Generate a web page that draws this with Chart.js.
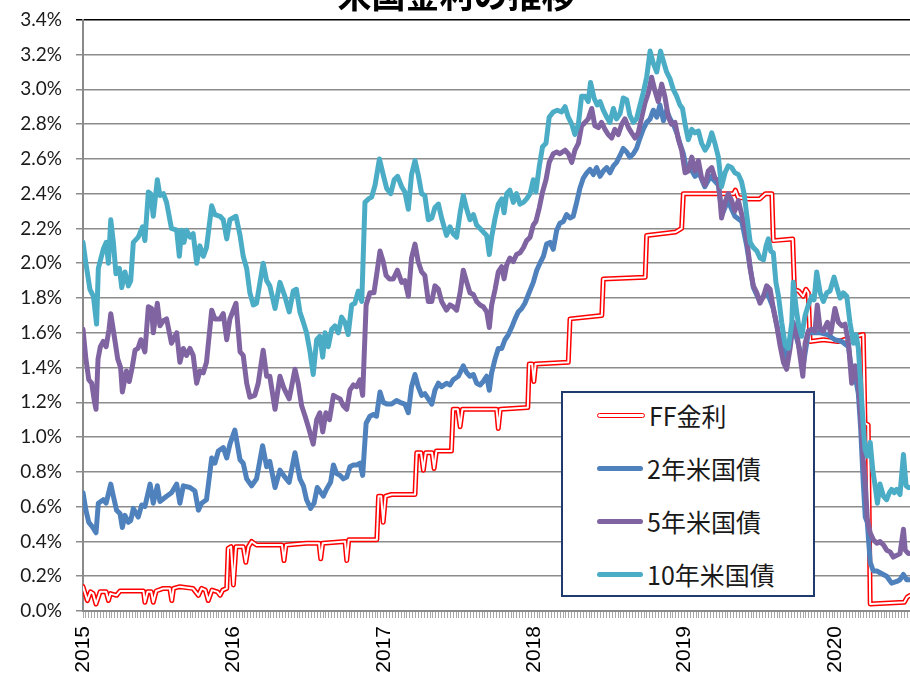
<!DOCTYPE html>
<html lang="ja">
<head>
  <meta charset="UTF-8" />
  <title>米国金利の推移</title>
  <script src="https://cdn.jsdelivr.net/npm/chart.js"></script>
  <style>
    html, body { margin: 0; padding: 0; background: #fff; overflow: hidden; width: 910px; height: 680px; }
    #wrap { position: absolute; left: 0; top: -25px; width: 968px; height: 716px; }
    #legendBox {
      position: absolute; left: 561px; top: 391px; width: 250px; height: 202px;
      border: 2px solid #1f3b6e; background: #fff;
      font-family: "Noto Sans CJK JP", sans-serif; font-size: 25px; color: #1a1a1a;
    }
    .row { position: absolute; left: 0; height: 30px; display: flex; align-items: center; }
    .swatch { width: 46px; height: 5px; border-radius: 3px; margin-left: 34px; margin-right: 4px; }
  </style>
</head>
<body>
  <div id="wrap"><canvas id="rateChart" width="968" height="716"></canvas></div>
  <div id="legendBox"></div>

  <script>
    // x = weeks since the start of 2015 (weekly data), y = rate in %
    const yearLabels = ['2015', '2016', '2017', '2018', '2019', '2020'];
    const yearTickWeeks = [0, 52, 104, 156, 208, 260];
    const lastWeek = 287;

    const ffWeek = [0, 1.5, 2.6, 3.5, 4.5, 5.9, 8, 8.8, 9.5, 11.6, 12.8, 20.9, 21.4, 22.3, 23.6, 24.3, 25.3, 27.8, 30, 30.7,
      31.3, 33.5, 38, 39.9, 41, 42.3, 43.3, 44.6, 46.5, 47.4, 48.3, 49.7, 50.2, 51.2, 52, 52.9, 55.4, 56.3, 57.2, 58.3,
      60, 68.8, 69.5, 70.2, 77.3, 81.6, 82.2, 82.9, 90.6, 91.2, 91.9, 101.6, 102.2, 103.1, 103.8, 104.6, 106.7, 114.8, 115.4, 116.9,
      117.7, 118.5, 120.7, 121.4, 122.2, 127.4, 128, 129.6, 130.4, 131.2, 143, 143.6, 144.3, 153.8, 154.3, 155.3, 155.9, 156.5, 167.8, 168.4,
      179.4, 179.9, 194.4, 194.9, 205, 207, 207.6, 225, 225.6, 226.5, 230, 234, 236, 238.2, 238.7, 245.4, 246, 247.5, 249, 250,
      250.8, 251.4, 256, 261, 269.8, 270.4, 271.5, 272.2, 284, 285, 286];
    const ffRate = [0.14, 0.06, 0.11, 0.10, 0.04, 0.11, 0.11, 0.06, 0.10, 0.09, 0.115, 0.115, 0.05, 0.11, 0.11, 0.05, 0.115, 0.13, 0.13, 0.06,
      0.13, 0.14, 0.13, 0.09, 0.13, 0.12, 0.06, 0.12, 0.11, 0.09, 0.12, 0.13, 0.36, 0.37, 0.15, 0.37, 0.37, 0.28, 0.37, 0.40,
      0.38, 0.38, 0.29, 0.38, 0.39, 0.39, 0.30, 0.39, 0.40, 0.29, 0.41, 0.41, 0.66, 0.66, 0.51, 0.66, 0.67, 0.67, 0.91, 0.91,
      0.81, 0.91, 0.91, 0.82, 0.92, 0.92, 1.16, 1.16, 1.06, 1.16, 1.16, 1.05, 1.16, 1.17, 1.42, 1.42, 1.32, 1.42, 1.43, 1.68,
      1.70, 1.91, 1.92, 2.16, 2.18, 2.20, 2.40, 2.40, 2.42, 2.38, 2.37, 2.37, 2.40, 2.40, 2.13, 2.14, 1.85, 1.84, 1.81, 1.85,
      1.83, 1.55, 1.56, 1.55, 1.59, 1.08, 1.07, 0.04, 0.05, 0.08, 0.09];

    const y2Week = [0, 1, 2, 3, 4.5, 5.3, 7, 8, 9.6, 10.5, 11.6, 12.8, 13.6, 14.5, 15.7, 16.5, 17.4, 19.1, 20.3, 21.4,
      23.2, 24.3, 25.7, 26.6, 28.9, 30.6, 32.4, 33.5, 34.7, 37, 38.7, 39.9, 41, 42.7, 44.5, 45.6, 46.8, 48.5, 49.7, 50.8,
      52.5, 54.3, 55.4, 56.6, 58.3, 60, 62.1, 63.5, 64.6, 66.4, 68.1, 69.8, 71.3, 73.3, 75, 76.2, 77.3, 78.7, 79.9, 81,
      81.9, 83.1, 84.2, 85.6, 86.6, 87.7, 88.9, 90, 91.2, 92.3, 93.5, 94.6, 95.8, 96.7, 97.9, 99.2, 100.4, 101.5, 102.7, 103.8,
      105.2, 106.7, 108.4, 109.6, 111.3, 112.5, 113.6, 114.8, 115.9, 117.1, 118.2, 119.4, 120.6, 121.7, 122.9, 124, 125.7, 126.9, 128, 129.8,
      131.5, 132.7, 133.8, 135, 136.1, 137.3, 138.4, 139.6, 140.5, 141.3, 142.5, 143.6, 144.8, 145.9, 147.1, 148.2, 149.4, 150.5, 151.7, 152.8,
      154, 155.7, 156.9, 158, 159.2, 160.3, 161.5, 162.6, 163.8, 164.9, 166.1, 167.2, 168.4, 169.5, 170.7, 171.8, 173, 174.2, 175.3, 176.5,
      177.6, 178.8, 179.9, 181.1, 182.2, 183.4, 184.5, 185.7, 186.8, 188, 189.1, 190.3, 191.4, 192.6, 193.7, 194.9, 196.1, 197.2, 198.4, 199.5,
      200.7, 201.8, 203, 204.1, 205.3, 206.4, 207.6, 208.7, 209.9, 211.6, 213, 215, 217, 219.7, 221, 223, 225.4, 227.8, 229.5, 231.8,
      234, 236.4, 238.7, 241, 243.3, 245.6, 247.9, 248.9, 250.8, 253, 255, 257.4, 260, 262.4, 264.7, 265.8, 267, 268.1, 268.9, 269.8,
      270.5, 271.2, 272.2, 273.3, 274.5, 275.6, 277.9, 279.6, 281.4, 282.5, 283.7, 284.8, 286];
    const y2Rate = [0.68, 0.58, 0.51, 0.49, 0.45, 0.62, 0.64, 0.62, 0.73, 0.66, 0.58, 0.56, 0.48, 0.55, 0.51, 0.52, 0.59, 0.54, 0.61, 0.60,
      0.73, 0.62, 0.72, 0.63, 0.66, 0.68, 0.73, 0.62, 0.72, 0.71, 0.69, 0.58, 0.62, 0.64, 0.88, 0.85, 0.92, 0.94, 0.88, 0.96,
      1.04, 0.87, 0.85, 0.76, 0.72, 0.76, 0.95, 0.83, 0.86, 0.71, 0.81, 0.77, 0.74, 0.91, 0.76, 0.72, 0.64, 0.59, 0.62, 0.71,
      0.69, 0.66, 0.70, 0.74, 0.84, 0.79, 0.78, 0.76, 0.77, 0.83, 0.84, 0.84, 0.85, 0.78, 1.08, 1.12, 1.13, 1.12, 1.26, 1.20,
      1.19, 1.19, 1.21, 1.20, 1.19, 1.14, 1.29, 1.36, 1.29, 1.24, 1.25, 1.22, 1.19, 1.27, 1.31, 1.29, 1.31, 1.30, 1.33, 1.35,
      1.41, 1.37, 1.35, 1.36, 1.31, 1.30, 1.32, 1.35, 1.27, 1.37, 1.45, 1.51, 1.51, 1.56, 1.59, 1.63, 1.68, 1.72, 1.74, 1.77,
      1.82, 1.89, 1.96, 2.00, 2.04, 2.11, 2.12, 2.08, 2.19, 2.23, 2.24, 2.28, 2.26, 2.27, 2.35, 2.43, 2.49, 2.52, 2.54, 2.51,
      2.55, 2.50, 2.53, 2.55, 2.52, 2.56, 2.58, 2.62, 2.66, 2.64, 2.61, 2.63, 2.66, 2.72, 2.77, 2.81, 2.83, 2.88, 2.84, 2.91,
      2.82, 2.88, 2.83, 2.80, 2.75, 2.69, 2.63, 2.54, 2.55, 2.50, 2.52, 2.44, 2.50, 2.45, 2.28, 2.36, 2.27, 2.24, 2.10, 1.86,
      1.78, 1.84, 1.74, 1.56, 1.45, 1.64, 1.50, 1.40, 1.60, 1.60, 1.60, 1.59, 1.56, 1.55, 1.52, 1.38, 1.35, 1.25, 1.05, 0.74,
      0.54, 0.51, 0.28, 0.23, 0.23, 0.22, 0.20, 0.16, 0.17, 0.18, 0.21, 0.18, 0.18];

    const y5Week = [0, 1, 2, 3, 4, 4.5, 5.2, 6, 7, 8, 9, 9.6, 11, 12, 13, 13.6, 15, 16, 17, 18,
      19, 20, 21.4, 22.6, 23.7, 24.3, 25.7, 26.6, 27.8, 28.9, 30.6, 32.4, 33.5, 34.7, 35.8, 37, 38.1, 39.3, 40.4, 41.6,
      42.7, 44.5, 45.6, 47.4, 48.5, 49.7, 50.8, 52.9, 54.3, 55.4, 56.6, 57.7, 59.4, 60.6, 62.3, 63.5, 64.6, 66.4, 68.1, 69.5,
      71.3, 73.3, 74.4, 75.6, 76.8, 77.9, 79.6, 80.8, 81.9, 82.9, 84, 85.2, 86.6, 87.7, 88.9, 90, 91.2, 92.3, 93.5, 94.6,
      95.8, 96.7, 97.9, 99.2, 100.6, 101.5, 102.7, 103.8, 104.8, 105.9, 107.3, 108.7, 110.2, 111.3, 112.5, 113.6, 114.8, 115.9, 117.1, 118.2,
      119.4, 120.6, 121.7, 122.9, 124, 125.7, 126.9, 128, 129.2, 130.4, 131.5, 132.7, 133.8, 135, 136.1, 137.3, 138.4, 139.6, 140.5, 141.3,
      142.5, 143.6, 144.8, 145.6, 146.5, 147.6, 148.8, 149.9, 151.1, 152.3, 153.4, 154.6, 155.7, 156.6, 157.8, 158.9, 160.1, 161.2, 162.6, 163.8,
      164.9, 166.7, 167.8, 169, 170.1, 171.3, 172.4, 173.6, 174.7, 175.9, 177, 178.2, 179.3, 180.5, 181.6, 182.8, 183.9, 185.1, 186.3, 187.4,
      188.6, 189.7, 190.9, 192, 193.2, 194.3, 195.5, 196.6, 197.8, 198.9, 200.1, 201.2, 202.4, 203.5, 204.7, 205.9, 207, 208.2, 209.3, 210.5,
      211.6, 212.8, 213.9, 215.1, 216.2, 217.4, 218.5, 219.7, 220.8, 222, 223.1, 224.3, 225.4, 226.6, 227.8, 228.9, 229.8, 230.7, 231.8, 233,
      234.1, 235.3, 236.4, 237.6, 238.7, 239.9, 241, 242.2, 243.3, 244.5, 245.6, 247, 247.9, 248.9, 249.7, 250.8, 252, 253.1, 253.9, 254.9,
      256, 257.4, 258.6, 260, 261.2, 262.4, 263.5, 264.7, 265.8, 267, 268.1, 268.9, 269.8, 270.5, 271.2, 272.2, 273.3, 274.5, 275.6, 276.8,
      277.9, 279.1, 280.2, 281.4, 282.5, 283.7, 284.3, 285.4, 286];
    const y5Rate = [1.62, 1.45, 1.33, 1.31, 1.20, 1.16, 1.45, 1.52, 1.55, 1.52, 1.62, 1.71, 1.56, 1.45, 1.40, 1.26, 1.38, 1.32, 1.40, 1.50,
      1.51, 1.56, 1.49, 1.75, 1.74, 1.60, 1.77, 1.64, 1.67, 1.68, 1.54, 1.60, 1.43, 1.51, 1.47, 1.51, 1.47, 1.31, 1.38, 1.37,
      1.43, 1.73, 1.68, 1.68, 1.71, 1.56, 1.68, 1.77, 1.49, 1.47, 1.31, 1.23, 1.24, 1.31, 1.50, 1.35, 1.35, 1.16, 1.35, 1.28,
      1.22, 1.39, 1.31, 1.18, 1.12, 1.06, 0.96, 1.10, 1.14, 1.03, 1.14, 1.10, 1.24, 1.23, 1.22, 1.18, 1.16, 1.27, 1.30, 1.29,
      1.33, 1.24, 1.76, 1.83, 1.83, 1.93, 2.07, 2.01, 1.93, 1.91, 1.91, 1.96, 1.89, 1.90, 1.81, 2.03, 2.11, 2.01, 1.95, 1.93,
      1.78, 1.78, 1.87, 1.85, 1.78, 1.73, 1.76, 1.75, 1.73, 1.83, 1.96, 1.89, 1.83, 1.82, 1.78, 1.76, 1.75, 1.72, 1.63, 1.76,
      1.85, 1.95, 1.98, 1.91, 1.99, 2.03, 2.01, 2.05, 2.06, 2.09, 2.13, 2.15, 2.22, 2.24, 2.32, 2.41, 2.48, 2.58, 2.63, 2.64,
      2.63, 2.65, 2.63, 2.58, 2.65, 2.69, 2.79, 2.81, 2.83, 2.89, 2.79, 2.78, 2.81, 2.77, 2.74, 2.72, 2.77, 2.74, 2.80, 2.83,
      2.78, 2.75, 2.72, 2.75, 2.84, 2.92, 2.98, 3.07, 2.99, 2.93, 3.03, 2.96, 2.84, 2.80, 2.81, 2.71, 2.65, 2.52, 2.53, 2.61,
      2.53, 2.59, 2.49, 2.45, 2.53, 2.55, 2.49, 2.48, 2.26, 2.35, 2.40, 2.36, 2.30, 2.36, 2.28, 2.20, 2.10, 1.97, 1.87, 1.83,
      1.77, 1.81, 1.87, 1.85, 1.74, 1.64, 1.53, 1.43, 1.39, 1.51, 1.66, 1.58, 1.47, 1.35, 1.54, 1.61, 1.62, 1.61, 1.76, 1.62,
      1.61, 1.66, 1.60, 1.74, 1.66, 1.64, 1.65, 1.54, 1.31, 1.41, 1.31, 1.12, 0.87, 0.74, 0.53, 0.45, 0.41, 0.39, 0.40, 0.38,
      0.35, 0.34, 0.31, 0.32, 0.33, 0.47, 0.35, 0.33, 0.33];

    const y10Week = [0, 1, 2.4, 3.6, 4.7, 5.3, 7, 8, 8.8, 9.6, 10.5, 11.4, 12.6, 13.4, 14.5, 15.7, 16.5, 17.4, 19.1, 20.6,
      21.4, 22.6, 23.4, 24.3, 25.7, 26.6, 27.8, 28.9, 30.6, 32.4, 33.3, 34.1, 34.9, 35.8, 37, 38.1, 39.3, 40.4, 41.6, 42.7,
      44.5, 45.6, 47.4, 48.5, 49.7, 50.8, 52.9, 54.3, 55.4, 56.6, 57.7, 58.9, 60, 61.2, 62.3, 63.5, 64.6, 66.4, 68.1, 69.8,
      71.3, 72.7, 73.8, 75, 76.2, 77.3, 78.5, 79.6, 80.8, 81.9, 82.9, 83.7, 84.8, 86, 87.1, 88.3, 89.4, 90.6, 91.7, 92.9,
      94, 95.2, 96.4, 97.5, 98.7, 99.8, 101, 102.5, 103.8, 105, 106.4, 107.6, 108.8, 110.2, 111.3, 112.5, 113.6, 114.8, 115.9, 117.1,
      118.2, 119.4, 120.6, 121.7, 122.9, 124, 125.7, 126.9, 128, 129.2, 130.4, 131.5, 132.7, 133.8, 135, 136.1, 137.3, 138.4, 139.6, 140.5,
      141.3, 142.5, 143.6, 144.8, 145.6, 146.5, 147.6, 148.8, 149.9, 151.1, 152.3, 153.4, 154.6, 155.7, 156.6, 157.8, 158.9, 160.1, 161.2, 162.6,
      164, 165.5, 166.7, 167.8, 169, 170.1, 171.3, 172.4, 173.6, 174.7, 175.5, 176.7, 177.8, 178.8, 179.9, 181.1, 182.2, 183.4, 184.5, 185.7,
      186.8, 188, 189.1, 190.3, 191.4, 192.6, 193.7, 194.9, 196.1, 197.2, 198.4, 199.7, 200.9, 201.8, 203, 204.1, 205.3, 206.4, 207.3, 208.2,
      209.3, 210.5, 211.6, 212.8, 213.9, 215.1, 216.2, 217.4, 218.5, 219.7, 220.8, 222, 223.1, 224.3, 225.4, 226.6, 227.7, 228.6, 229.5, 230.7,
      231.8, 233, 234.1, 235.3, 236.2, 237, 237.8, 238.7, 239.6, 240.5, 241.6, 242.8, 243.9, 245.1, 245.6, 246.6, 247.4, 248.5, 249.7, 250.8,
      252, 252.8, 253.7, 254.9, 256, 257.2, 258.3, 259.7, 260.9, 261.8, 262.9, 264.1, 265.2, 266.4, 267.3, 268.1, 268.9, 269.6, 270.4, 271.2,
      272.2, 273.1, 273.9, 274.7, 275.6, 276.8, 277.9, 278.8, 279.6, 280.5, 281.4, 282.5, 283.7, 284.6, 285.4, 286];
    const y10Rate = [2.12, 2.00, 1.85, 1.81, 1.65, 1.97, 2.08, 2.12, 2.00, 2.25, 2.12, 1.94, 1.97, 1.86, 1.95, 1.87, 1.90, 2.12, 2.15, 2.21,
      2.13, 2.41, 2.40, 2.27, 2.48, 2.39, 2.40, 2.35, 2.20, 2.19, 2.04, 2.19, 2.12, 2.19, 2.15, 2.17, 2.00, 2.10, 2.04, 2.09,
      2.33, 2.28, 2.27, 2.25, 2.14, 2.25, 2.27, 2.16, 2.04, 1.97, 1.83, 1.76, 1.77, 1.89, 2.00, 1.90, 1.87, 1.74, 1.89, 1.81,
      1.72, 1.84, 1.85, 1.72, 1.66, 1.60, 1.49, 1.36, 1.56, 1.58, 1.46, 1.60, 1.52, 1.62, 1.64, 1.60, 1.69, 1.66, 1.59, 1.76,
      1.77, 1.84, 1.78, 2.35, 2.37, 2.38, 2.45, 2.60, 2.51, 2.43, 2.40, 2.48, 2.50, 2.44, 2.41, 2.31, 2.51, 2.59, 2.51, 2.40,
      2.39, 2.25, 2.26, 2.32, 2.34, 2.26, 2.16, 2.21, 2.17, 2.15, 2.29, 2.39, 2.31, 2.25, 2.28, 2.22, 2.20, 2.18, 2.16, 2.05,
      2.15, 2.26, 2.34, 2.37, 2.29, 2.40, 2.42, 2.35, 2.40, 2.34, 2.35, 2.37, 2.40, 2.48, 2.41, 2.56, 2.67, 2.69, 2.84, 2.87,
      2.88, 2.87, 2.90, 2.84, 2.80, 2.74, 2.80, 2.96, 2.96, 2.93, 3.04, 2.95, 2.91, 2.93, 2.88, 2.84, 2.81, 2.89, 2.83, 2.86,
      2.95, 2.94, 2.85, 2.81, 2.83, 2.91, 2.98, 3.07, 3.22, 3.15, 3.10, 3.22, 3.15, 3.10, 3.06, 3.00, 2.96, 2.91, 2.89, 2.80,
      2.71, 2.77, 2.75, 2.76, 2.69, 2.65, 2.68, 2.75, 2.69, 2.61, 2.44, 2.52, 2.56, 2.55, 2.52, 2.51, 2.47, 2.40, 2.28, 2.12,
      2.09, 2.07, 2.03, 2.02, 2.10, 2.14, 2.07, 2.06, 1.89, 1.81, 1.66, 1.53, 1.51, 1.66, 1.89, 1.74, 1.65, 1.58, 1.70, 1.76,
      1.81, 1.79, 1.95, 1.83, 1.78, 1.83, 1.84, 1.92, 1.85, 1.80, 1.83, 1.81, 1.66, 1.54, 1.59, 1.51, 1.31, 1.12, 0.93, 0.89,
      0.97, 0.81, 0.72, 0.62, 0.73, 0.66, 0.64, 0.68, 0.70, 0.68, 0.70, 0.67, 0.90, 0.72, 0.71, 0.71];

    const seriesNames = ['FF金利', '2年米国債', '5年米国債', '10年米国債'];
    const seriesColors = ['#ff0000', '#4f81bd', '#8064a2', '#4bacc6'];

    const toPoints = (weeks, rates) => weeks.map((w, i) => ({ x: w, y: rates[i] }));

    const lineStyle = { pointRadius: 0, tension: 0, fill: false, borderJoinStyle: 'round', borderCapStyle: 'round' };

    const ctx = document.getElementById('rateChart').getContext('2d');
    const chart = new Chart(ctx, {
      type: 'line',
      data: {
        datasets: [
          { ...lineStyle, label: seriesNames[0], data: toPoints(ffWeek, ffRate), borderColor: seriesColors[0], borderWidth: 5, order: 5 },
          { ...lineStyle, label: 'FF inner', data: toPoints(ffWeek, ffRate), borderColor: '#ffffff', borderWidth: 2, order: 4 },
          { ...lineStyle, label: seriesNames[1], data: toPoints(y2Week, y2Rate), borderColor: seriesColors[1], borderWidth: 5, order: 3 },
          { ...lineStyle, label: seriesNames[2], data: toPoints(y5Week, y5Rate), borderColor: seriesColors[2], borderWidth: 5, order: 2 },
          { ...lineStyle, label: seriesNames[3], data: toPoints(y10Week, y10Rate), borderColor: seriesColors[3], borderWidth: 5, order: 1 }
        ]
      },
      options: {
        responsive: false,
        animation: false,
        layout: { padding: { left: 0, right: 55, top: 0, bottom: 0 } },
        plugins: {
          legend: { display: false },
          tooltip: { enabled: false },
          title: {
            display: true,
            text: '米国金利の推移',
            color: '#000',
            font: { family: '"Noto Sans CJK JP", sans-serif', size: 34, weight: 'bold' },
            padding: { top: 0, bottom: 4 }
          }
        },
        scales: {
          x: {
            type: 'linear',
            min: 0,
            max: lastWeek,
            afterBuildTicks: (axis) => {
              const t = [];
              for (let w = 0; w <= lastWeek; w++) t.push({ value: w });
              axis.ticks = t;
            },
            afterFit: (s) => { s.height = 80; },
            ticks: {
              autoSkip: false,
              minRotation: 90,
              maxRotation: 90,
              padding: 8,
              color: '#000',
              font: { family: '"Liberation Sans", Arial, sans-serif', size: 21 },
              callback: (v) => {
                const k = yearTickWeeks.indexOf(v);
                return k >= 0 ? yearLabels[k] : '';
              }
            },
            grid: { drawOnChartArea: false, drawTicks: true, tickLength: 7, color: '#a6a6a6', lineWidth: 1 },
            border: { color: '#8a8a8a', width: 2 }
          },
          y: {
            min: 0,
            max: 3.4,
            afterFit: (s) => { s.width = 83; },
            ticks: {
              stepSize: 0.2,
              padding: 14,
              color: '#1a1a1a',
              font: { family: 'Lato, sans-serif', size: 19 },
              callback: (v) => v.toFixed(1) + '%'
            },
            grid: {
              color: (c) => (c.tick && c.tick.value > 3.39 ? '#000' : '#8c8c8c'),
              lineWidth: 1.5,
              tickLength: 7
            },
            border: { color: '#8a8a8a', width: 2 }
          }
        }
      }
    });

    // legend box drawn over the plot, like the original
    const legendBox = document.getElementById('legendBox');
    seriesNames.forEach((name, i) => {
      const row = document.createElement('div');
      row.className = 'row';
      row.style.top = (7 + i * 53) + 'px';
      const sw = document.createElement('div');
      sw.className = 'swatch';
      if (i === 0) {
        sw.style.background = '#fff';
        sw.style.border = '1.5px solid ' + seriesColors[0];
        sw.style.height = '3px';
      } else {
        sw.style.background = seriesColors[i];
      }
      const label = document.createElement('span');
      label.textContent = name;
      row.appendChild(sw);
      row.appendChild(label);
      legendBox.appendChild(row);
    });
  </script>
</body>
</html>
